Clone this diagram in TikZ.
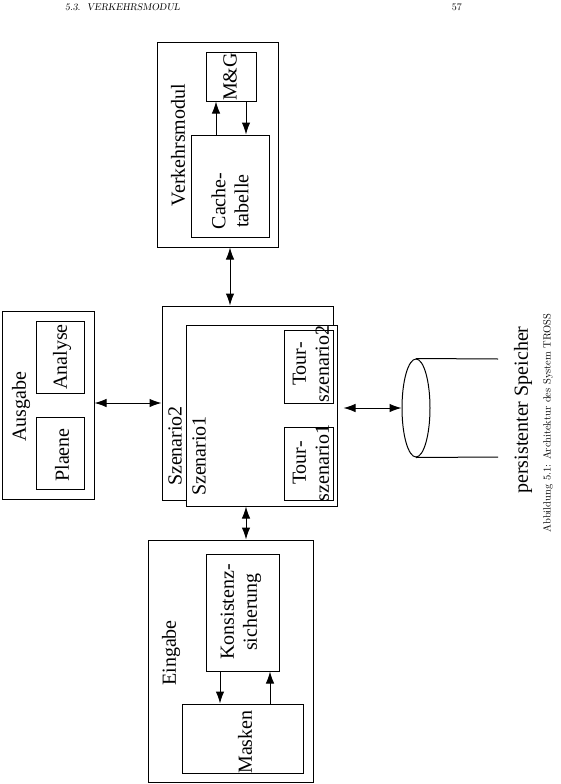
\documentclass[tikz,border=0pt]{standalone}
\usepackage{fontspec}
\newfontfamily\tms{Liberation Serif}
\usetikzlibrary{arrows.meta,fit,shapes.geometric}
\tikzset{
  box/.style={draw, line width=1pt, inner sep=0pt, fill=white},
  lbl/.style={rotate=90, font=\tms\fontsize{20}{23}\selectfont, inner sep=0pt, align=center},
  both/.style={line width=1pt, {Latex[length=12pt,width=8.5pt]}-{Latex[length=12pt,width=8.5pt]}},
  one/.style={line width=1pt, -{Latex[length=12pt,width=8.5pt]}},
}
\begin{document}
\begin{tikzpicture}[x=1pt,y=-1pt]
\useasboundingbox (0,0) rectangle (560,784);
% header
\node[anchor=base west, inner sep=0pt, font=\fontsize{9.8}{12}\selectfont\slshape] (hdr) at (65,11) {5.3.\ \ VERKEHRSMODUL};
\node[anchor=base east, inner sep=0pt, font=\fontsize{10}{12}\selectfont] (pg) at (462,11) {57};

% Verkehrsmodul
\path (157,43) coordinate (vmA) (278,247) coordinate (vmB);
\node[box, fit=(vmA)(vmB)] (vm) {};
\path (206,53) coordinate (mgA) (256,101) coordinate (mgB);
\node[box, fit=(mgA)(mgB)] (mg) {};
\path (191,135) coordinate (caA) (269,237) coordinate (caB);
\node[box, fit=(caA)(caB)] (ca) {};
\node[lbl] (tvm) at (178,145) {Verkehrsmodul};
\node[lbl] (tmg) at (230,77) {M\&G};
\node[lbl] (tca) at (230,201) {Cache-\\tabelle};
\coordinate (xu) at (216,0);
\coordinate (xd) at (246,0);
\draw[one] (xu |- ca.north) -- (xu |- mg.south);
\draw[one] (xd |- mg.south) -- (xd |- ca.north);

% Szenarios
\path (162,306) coordinate (s2A) (333,500) coordinate (s2B);
\node[box, fit=(s2A)(s2B)] (sz2) {};
\path (186,325) coordinate (s1A) (337,506) coordinate (s1B);
\node[box, fit=(s1A)(s1B)] (sz1) {};
\path (284,330) coordinate (t2A) (333,403) coordinate (t2B);
\node[box, fit=(t2A)(t2B)] (ts2) {};
\path (284,427) coordinate (t1A) (333,500) coordinate (t1B);
\node[box, fit=(t1A)(t1B)] (ts1) {};
\node[lbl] (tsz2) at (175,446) {Szenario2};
\node[lbl] (tsz1) at (199,456) {Szenario1};
\node[lbl] (tts2) at (311,364) {Tour-\\szenario2};
\node[lbl] (tts1) at (311,463) {Tour-\\szenario1};

% Ausgabe
\path (2,311) coordinate (auA) (94,499) coordinate (auB);
\node[box, fit=(auA)(auB)] (aus) {};
\path (36,321) coordinate (anA) (84,393) coordinate (anB);
\node[box, fit=(anA)(anB)] (ana) {};
\path (36,417) coordinate (plA) (84,489) coordinate (plB);
\node[box, fit=(plA)(plB)] (pla) {};
\node[lbl] (taus) at (21,407) {Ausgabe};
\node[lbl] (tana) at (62,357) {Analyse};
\node[lbl] (tpla) at (62,455) {Plaene};

% Eingabe
\path (148,540) coordinate (eiA) (313,782) coordinate (eiB);
\node[box, fit=(eiA)(eiB)] (ein) {};
\path (206,554) coordinate (koA) (279,671) coordinate (koB);
\node[box, fit=(koA)(koB)] (kon) {};
\path (182,704) coordinate (maA) (303,773) coordinate (maB);
\node[box, fit=(maA)(maB)] (mas) {};
\node[lbl] (tein) at (171,653) {Eingabe};
\node[lbl] (tkon) at (241,612) {Konsistenz-\\sicherung};
\node[lbl] (tmas) at (245,742) {Masken};
\coordinate (xk1) at (220,0);
\coordinate (xk2) at (270,0);
\draw[one] (xk1 |- kon.south) -- (xk1 |- mas.north);
\draw[one] (xk2 |- mas.north) -- (xk2 |- kon.south);

% persistent storage
\node[draw, line width=1pt, ellipse, minimum width=28pt, minimum height=98pt, inner sep=0pt] (disk) at (416,408) {};
\coordinate (dt) at (498,359);
\coordinate (db) at (498,457);
\draw[line width=1pt] (disk.north) -- (dt);
\draw[line width=1pt] (disk.south) -- (db);
\node[lbl] (tdisk) at (523,410) {persistenter Speicher};

% connectors
\coordinate (xv) at (230,0);
\draw[both] (xv |- vm.south) -- (xv |- sz2.north);
\coordinate (ya) at (0,403);
\draw[both] (aus.east |- ya) -- (sz2.west |- ya);
\coordinate (yd) at (0,408);
\draw[both, shorten <=6pt] (sz1.east |- yd) -- (disk.west);
\coordinate (xe) at (246,0);
\draw[both] (xe |- sz1.south) -- (xe |- ein.north);

% caption
\node[rotate=90, inner sep=0pt, font=\fontsize{10.5}{12}\selectfont] (cap) at (548,423) {Abbildung 5.1: Architektur des System TROSS};
\end{tikzpicture}
\end{document}
